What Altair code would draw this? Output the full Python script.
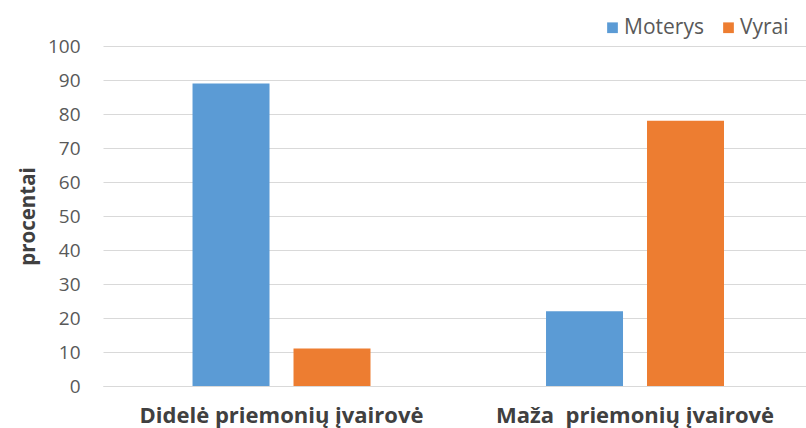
import altair as alt
import pandas as pd

categories = ["Didelė priemonių įvairovė", "Maža\u00a0 priemonių įvairovė"]
series = ["Moterys", "Vyrai"]
moterys = [89, 22]
vyrai = [11, 78]
y_ticks = [0, 10, 20, 30, 40, 50, 60, 70, 80, 90, 100]

rows = []
for i, c in enumerate(categories):
    rows.append({"cat": c, "ser": "Moterys", "val": moterys[i]})
    rows.append({"cat": c, "ser": "Vyrai", "val": vyrai[i]})
df = pd.DataFrame(rows)

FONT = "Open Sans"

chart = alt.Chart(df).mark_bar().encode(
    x=alt.X("cat:N", sort=categories, title=None,
            scale=alt.Scale(paddingInner=0.1, paddingOuter=0.04435, align=0.62),
            axis=alt.Axis(labelAngle=0, labelFontSize=22, labelFontWeight="bold",
                          labelColor="#404040", labelFont=FONT, labelPadding=19,
                          ticks=False, domainColor="#d9d9d9", labelLimit=400)),
    xOffset=alt.XOffset("ser:N", sort=series,
                        scale=alt.Scale(paddingInner=0.2376, paddingOuter=0.694)),
    y=alt.Y("val:Q", title="procentai",
            scale=alt.Scale(domain=[0, 100], nice=False),
            axis=alt.Axis(values=y_ticks, labelFontSize=19, labelColor="#595959",
                          labelFont=FONT, labelPadding=23, ticks=False, domain=False,
                          gridColor="#d9d9d9", titleFontSize=20.5, titleFontWeight="bold",
                          titleColor="#404040", titleFont=FONT, titlePadding=9)),
    color=alt.Color("ser:N", sort=series, title=None,
                    scale=alt.Scale(domain=series, range=["#5B9BD5", "#ED7D31"]),
                    legend=alt.Legend(orient="none", legendX=499, legendY=-29,
                                      direction="horizontal", symbolType="square",
                                      symbolSize=115, labelFontSize=21, labelColor="#595959",
                                      labelFont=FONT, columnPadding=14, labelOffset=1)),
).properties(
    width=703, height=340,
    padding={"left": 103, "top": 46, "right": 0, "bottom": 42},
    autosize=alt.AutoSizeParams(type="none"),
).configure_view(stroke=None)

chart.save("out.html", embed_options={"renderer": "svg", "actions": False})
